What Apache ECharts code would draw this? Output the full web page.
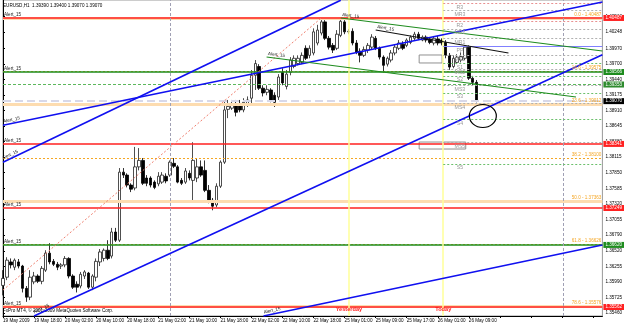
<!DOCTYPE html>
<html><head><meta charset="utf-8">
<script src="https://cdn.jsdelivr.net/npm/echarts@6/dist/echarts.min.js"></script>
<style>html,body{margin:0;padding:0;background:#fff}#c{width:625px;height:324px}</style>
</head><body><div id="c"></div>
<script>
// ---------- DATA ----------
const xTickLabels = ['19 May 2009','19 May 18:00','20 May 02:00','20 May 10:00','20 May 18:00','21 May 02:00','21 May 10:00','21 May 18:00','22 May 02:00','22 May 10:00','22 May 18:00','25 May 01:00','25 May 09:00','25 May 17:00','26 May 01:00','26 May 09:00'];
const yTicks = [1.40513,1.40248,1.39970,1.39700,1.39440,1.39175,1.38910,1.38645,1.38380,1.38115,1.37850,1.37585,1.37320,1.37055,1.36790,1.36520,1.36255,1.35990,1.35725,1.35460];

const opens = [1.3593,1.3607,1.3633,1.3624,1.3633,1.3626,1.3588,1.3573,1.3599,1.3609,
1.3600,1.3619,1.3648,1.3634,1.3629,1.3626,1.3628,1.3639,1.3609,1.3595,
1.3592,1.3609,1.3614,1.3590,1.3607,1.3633,1.3639,1.3653,1.3643,1.3684,
1.3670,1.3786,1.3781,1.3764,1.3759,1.3795,1.3806,1.3776,1.3776,1.3769,
1.3766,1.3769,1.3779,1.3781,1.3801,1.3795,1.3772,1.3769,1.3784,1.3772,
1.3776,1.3795,1.3789,1.3755,1.3738,1.3730,1.3762,1.3803,1.3893,1.3895,
1.3903,1.3903,1.3892,1.3900,1.3912,1.3951,1.3966,1.3929,1.3922,1.3926,
1.3917,1.3914,1.3956,1.3932,1.3956,1.3966,1.3971,1.3973,1.3997,1.3985,
1.3989,1.4006,1.4023,1.4042,1.4014,1.4002,1.3997,1.4019,1.4042,1.4025,
1.4026,1.4006,1.3992,1.3985,1.3994,1.3999,1.4014,1.3997,1.3982,1.3970,
1.3977,1.3989,1.3997,1.4004,1.4002,1.4007,1.4014,1.4021,1.4011,1.4016,
1.4013,1.4006,1.4013,1.4011,1.4007,1.3985,1.3966,1.3973,1.3977,1.3980,
1.3999,1.3946,1.3939];
const highs = [1.3619,1.3641,1.3639,1.3639,1.3638,1.3628,1.3592,1.3619,1.3616,1.3612,
1.3626,1.3653,1.3665,1.3638,1.3633,1.3631,1.3643,1.3641,1.3612,1.3600,
1.3616,1.3619,1.3616,1.3612,1.3639,1.3655,1.3656,1.3670,1.3691,1.3691,
1.3793,1.3793,1.3784,1.3767,1.3829,1.3827,1.3810,1.3781,1.3779,1.3772,
1.3786,1.3786,1.3784,1.3806,1.3810,1.3798,1.3776,1.3793,1.3789,1.3837,
1.3810,1.3806,1.3806,1.3764,1.3742,1.3767,1.3806,1.3909,1.3909,1.3909,
1.3909,1.3909,1.3912,1.3915,1.3960,1.3977,1.3970,1.3934,1.3934,1.3929,
1.3922,1.3953,1.3963,1.3960,1.3982,1.3985,1.3985,1.3990,1.4002,1.4002,
1.4031,1.4037,1.4049,1.4045,1.4018,1.4006,1.4028,1.4049,1.4045,1.4030,
1.4031,1.4011,1.3997,1.4000,1.4006,1.4021,1.4018,1.4000,1.3985,1.3983,
1.3994,1.4004,1.4011,1.4009,1.4014,1.4019,1.4025,1.4025,1.4019,1.4019,
1.4016,1.4018,1.4018,1.4014,1.4011,1.3989,1.3985,1.3987,1.3990,1.4002,
1.4002,1.3950,1.3943];
const lows = [1.3576,1.3602,1.3622,1.3619,1.3622,1.3581,1.3565,1.3568,1.3595,1.3597,
1.3595,1.3616,1.3629,1.3626,1.3619,1.3621,1.3624,1.3605,1.3587,1.3581,
1.3588,1.3604,1.3587,1.3585,1.3600,1.3626,1.3634,1.3636,1.3639,1.3667,
1.3667,1.3776,1.3760,1.3752,1.3755,1.3789,1.3764,1.3762,1.3760,1.3757,
1.3762,1.3766,1.3767,1.3778,1.3793,1.3767,1.3764,1.3766,1.3772,1.3738,
1.3769,1.3778,1.3752,1.3733,1.3721,1.3726,1.3759,1.3800,1.3878,1.3892,
1.3881,1.3888,1.3888,1.3897,1.3903,1.3926,1.3926,1.3915,1.3917,1.3905,
1.3897,1.3909,1.3934,1.3927,1.3951,1.3963,1.3968,1.3970,1.3977,1.3980,
1.3985,1.4002,1.4019,1.4011,1.3995,1.3989,1.3994,1.4016,1.4021,1.4021,
1.4002,1.3987,1.3973,1.3982,1.3989,1.3995,1.3994,1.3978,1.3956,1.3966,
1.3973,1.3985,1.3994,1.3994,1.3999,1.4004,1.4011,1.4011,1.4009,1.4007,
1.4004,1.4002,1.4002,1.4002,1.3980,1.3960,1.3963,1.3970,1.3973,1.3977,
1.3943,1.3934,1.3905];
const closes = [1.3605,1.3636,1.3628,1.3636,1.3626,1.3588,1.3573,1.3607,1.3609,1.3600,
1.3622,1.3648,1.3633,1.3629,1.3624,1.3628,1.3639,1.3609,1.3590,1.3590,
1.3612,1.3616,1.3590,1.3609,1.3634,1.3650,1.3653,1.3639,1.3684,1.3670,
1.3786,1.3781,1.3764,1.3757,1.3795,1.3806,1.3767,1.3767,1.3764,1.3760,
1.3779,1.3781,1.3771,1.3803,1.3796,1.3769,1.3767,1.3788,1.3776,1.3806,
1.3795,1.3781,1.3755,1.3738,1.3728,1.3762,1.3803,1.3892,1.3898,1.3903,
1.3888,1.3892,1.3905,1.3909,1.3951,1.3971,1.3929,1.3921,1.3927,1.3909,
1.3905,1.3948,1.3938,1.3953,1.3977,1.3980,1.3980,1.3985,1.3980,1.3997,
1.4025,1.4028,1.4042,1.4014,1.3999,1.3994,1.4021,1.4043,1.4025,1.4026,
1.4006,1.3990,1.3985,1.3995,1.4002,1.4016,1.3997,1.3982,1.3968,1.3980,
1.3989,1.3999,1.4006,1.3997,1.4011,1.4016,1.4021,1.4014,1.4016,1.4011,
1.4007,1.4014,1.4006,1.4006,1.3985,1.3965,1.3980,1.3982,1.3983,1.3999,
1.3946,1.3939,1.3907];

const redAlerts = [1.40487, 1.38341, 1.37249, 1.35562];
const greenAlerts = [1.39566, 1.36620];
const greenDashedLevels = [1.39353];
const bidPrice = 1.39070;
const fibHigh = 1.40487, fibLow = 1.34239;
const fibLevels = [0, 14.6, 23.6, 38.2, 50, 61.8, 78.6];
// trend lines: [barStart, priceStart, barEnd, priceEnd]
const blueLines = [[0,1.3803,87,1.4079],[0,1.3866,154.4,1.4076],[8,1.3541,154.4,1.3986],[67.1,1.3541,154.4,1.3662]];
const greenLines = [[87,1.40486,154.4,1.39924],[67.9,1.39822,147.6,1.39140]];
const blackLines = [[96,1.40282,130.2,1.39890]];
const fibTrend = [0,1.3585,82,1.40487];
const pivotNames = ['R3','MR3','R2','MR2','MR1','PP','MS1','S1','MS2','S2','MS3','S3','MS4','S4','MS5','S5'];
const pivotPrices = [1.4074,1.4061,1.4043,1.4030,1.4014,1.4000,1.3985,1.3971,1.3962,1.3950,1.3934,1.3921,1.3903,1.3876,1.3837,1.3800];
const vSeparators = [43.1, 144.2];
const dayLines = [89.1, 113.4];
const dayNames = ['Yesterday','Today'];
const boxes = [[107.2,1.39856,113.1,1.39720],[107.2,1.38373,119.2,1.38254]];
const circleMark = [123.6, 1.38817];

// ---------- CHART ----------
const FS = 4.6, FF = 'Liberation Sans, Arial, sans-serif';
const chart = echarts.init(document.getElementById('c'));
const candleData = opens.map((o, i) => [i, o, closes[i], lows[i], highs[i]]);
const xMax = 154.4;
const none = {show:false};
const ml = [];
const txt = (t, pos, color, extra) => Object.assign({show:true, formatter:t, position:pos, fontSize:FS, color:color||'#222', fontFamily:FF, distance:1}, extra||{});
const tag = (p, bg) => ({yAxis:p, lineStyle:{color:'rgba(0,0,0,0)', width:0.1}, label:{show:true, position:'end', distance:1, formatter:p.toFixed(5), fontSize:FS, fontFamily:FF, color:'#fff', backgroundColor:bg, padding:[1,2,0,2]}});

fibLevels.forEach(l => {
  const p = fibHigh - l/100*(fibHigh - fibLow);
  const band = (l===0||l===23.6||l===50||l===78.6);
  ml.push({yAxis:p, lineStyle: band ? {color:'#FDDCB0', width:3, type:'solid'} : {color:'#F5A623', width:1, type:[2,2]},
    label: txt(l.toFixed(1)+' - '+p.toFixed(5), 'insideEndTop', '#F5A623')});
});
ml.push({yAxis:bidPrice, lineStyle:{color:'#D8D8E8', width:2}, label:none});
greenDashedLevels.forEach(p => ml.push({yAxis:p, lineStyle:{color:'#5CB85C', width:1, type:[3,2]}, label:none}));
redAlerts.forEach(p => ml.push({yAxis:p, lineStyle:{color:'#FF2020', width:1.6, type:'solid'}, label: txt('Alert_15','insideStartTop')}));
greenAlerts.forEach(p => ml.push({yAxis:p, lineStyle:{color:'#1E8C1E', width:1.6, type:'solid'}, label: txt('Alert_15','insideStartTop')}));
vSeparators.forEach(v => ml.push({xAxis:v, lineStyle:{color:'#A0A0B4', width:1, type:[3,2]}, label:none}));
dayLines.forEach(v => ml.push({xAxis:v, lineStyle:{color:'#FFFF99', width:1.5, type:'solid'}, label:none}));
pivotNames.forEach((n, k) => {
  const c = n==='PP' ? '#8080FF' : (n[0]==='R' ? '#E89090' : (n[0]==='S' ? '#6CC06C' : '#B0B0B0'));
  ml.push([{coord:[dayLines[1], pivotPrices[k]], lineStyle:{color:c, width:1, type: n==='PP' ? 'solid' : [2,2]}, label:none},{coord:[xMax, pivotPrices[k]]}]);
});
const seg = (a, style, lab) => [{coord:[a[0],a[1]], lineStyle:style, label:lab||none},{coord:[a[2],a[3]]}];
ml.push(seg(fibTrend, {color:'#F08070', width:1, type:[2,2]}));
blueLines.forEach(a => ml.push(seg(a, {color:'#1010F0', width:1.6, type:'solid'}, txt('Alert_15','insideStartTop'))));
greenLines.forEach(a => ml.push(seg(a, {color:'#1E8C1E', width:1.2, type:'solid'}, txt('Alert_15','insideStartTop'))));
blackLines.forEach(a => ml.push(seg(a, {color:'#111', width:1.2, type:'solid'}, txt('Alert_15','insideStartTop'))));

// price tags on the right axis
const tags = [];
redAlerts.forEach(p => tags.push(tag(p,'#FF2020')));
greenAlerts.forEach(p => tags.push(tag(p,'#1E8C1E')));
greenDashedLevels.forEach(p => tags.push(tag(p,'#2E8B2E')));
tags.push(tag(bidPrice,'#000'));

const mp = [];
pivotNames.forEach((n,k) => mp.push({coord:[117.7, pivotPrices[k]], symbol:'rect', symbolSize:1, itemStyle:{color:'rgba(0,0,0,0)'},
  label:{show:true, position:'inside', offset:[0,4], formatter:n, fontSize:FS+0.6, color:'#9A9A9A', fontFamily:FF}}));
dayNames.forEach((n,k) => mp.push({coord:[dayLines[k], 1.35528], symbol:'rect', symbolSize:1, itemStyle:{color:'rgba(0,0,0,0)'},
  label:{show:true, position:'inside', formatter:n, fontSize:5.6, fontWeight:'bold', color:'#FF2020', fontFamily:FF}}));
mp.push({coord:circleMark, symbol:'circle', symbolSize:[27,23], itemStyle:{color:'rgba(0,0,0,0)', borderColor:'#000', borderWidth:1.1}, label:none});

const ma = boxes.map(b => [{coord:[b[0],b[1]]},{coord:[b[2],b[3]]}]);

chart.setOption({
  animation:false,
  backgroundColor:'#fff',
  graphic:[
    {type:'text', left:3, top:3, style:{text:'EURUSD,H1  1.39390 1.39400 1.39070 1.39070', fontSize:FS, fontFamily:FF, fill:'#000'}},
    {type:'text', left:3, top:308, style:{text:'FxPro MT4, \u00a9 2001-2009 MetaQuotes Software Corp.', fontSize:FS, fontFamily:FF, fill:'#000'}}
  ],
  grid:{left:2, right:18, top:0, bottom:8, show:true, borderColor:'#999', borderWidth:1},
  xAxis:{type:'value', min:0, max:xMax, interval:8,
    axisLine:{show:true, lineStyle:{color:'#000'}}, axisTick:{show:true, length:2, lineStyle:{color:'#000'}},
    axisLabel:{fontSize:FS, color:'#000', fontFamily:FF, margin:2, align:'left', showMaxLabel:false,
      formatter: v => { const k = v/8; return Number.isInteger(k) && xTickLabels[k] ? xTickLabels[k] : ''; }},
    splitLine:{show:false}},
  yAxis:{type:'value', position:'right', min:1.35409, max:1.40793,
    axisLine:{show:true, lineStyle:{color:'#000'}},
    axisTick:{show:true, length:2, customValues:yTicks, lineStyle:{color:'#000'}},
    axisLabel:{customValues:yTicks, fontSize:FS, color:'#000', fontFamily:FF, margin:3, formatter: v => v.toFixed(5)},
    splitLine:{show:false}},
  series:[
    {type:'line', data:[], z:1, silent:true,
      markLine:{symbol:['none','none'], precision:6, silent:true, animation:false, label:{show:false}, data:ml},
      markArea:{silent:true, precision:6, itemStyle:{color:'rgba(255,255,255,0)', borderColor:'#909090', borderWidth:1}, data:ma}},
    {type:'candlestick', data:candleData, encode:{x:0, y:[1,2,3,4]}, barWidth:3, z:3,
      itemStyle:{color:'#fff', color0:'#000', borderColor:'#222', borderColor0:'#000', borderWidth:0.8}},
    {type:'line', data:[], z:4, silent:true, markPoint:{silent:true, precision:6, animation:false, data:mp}},
    {type:'line', data:[], z:6, silent:true,
      markLine:{symbol:['none','none'], precision:6, silent:true, animation:false, data:tags}}
  ]
});
</script></body></html>
